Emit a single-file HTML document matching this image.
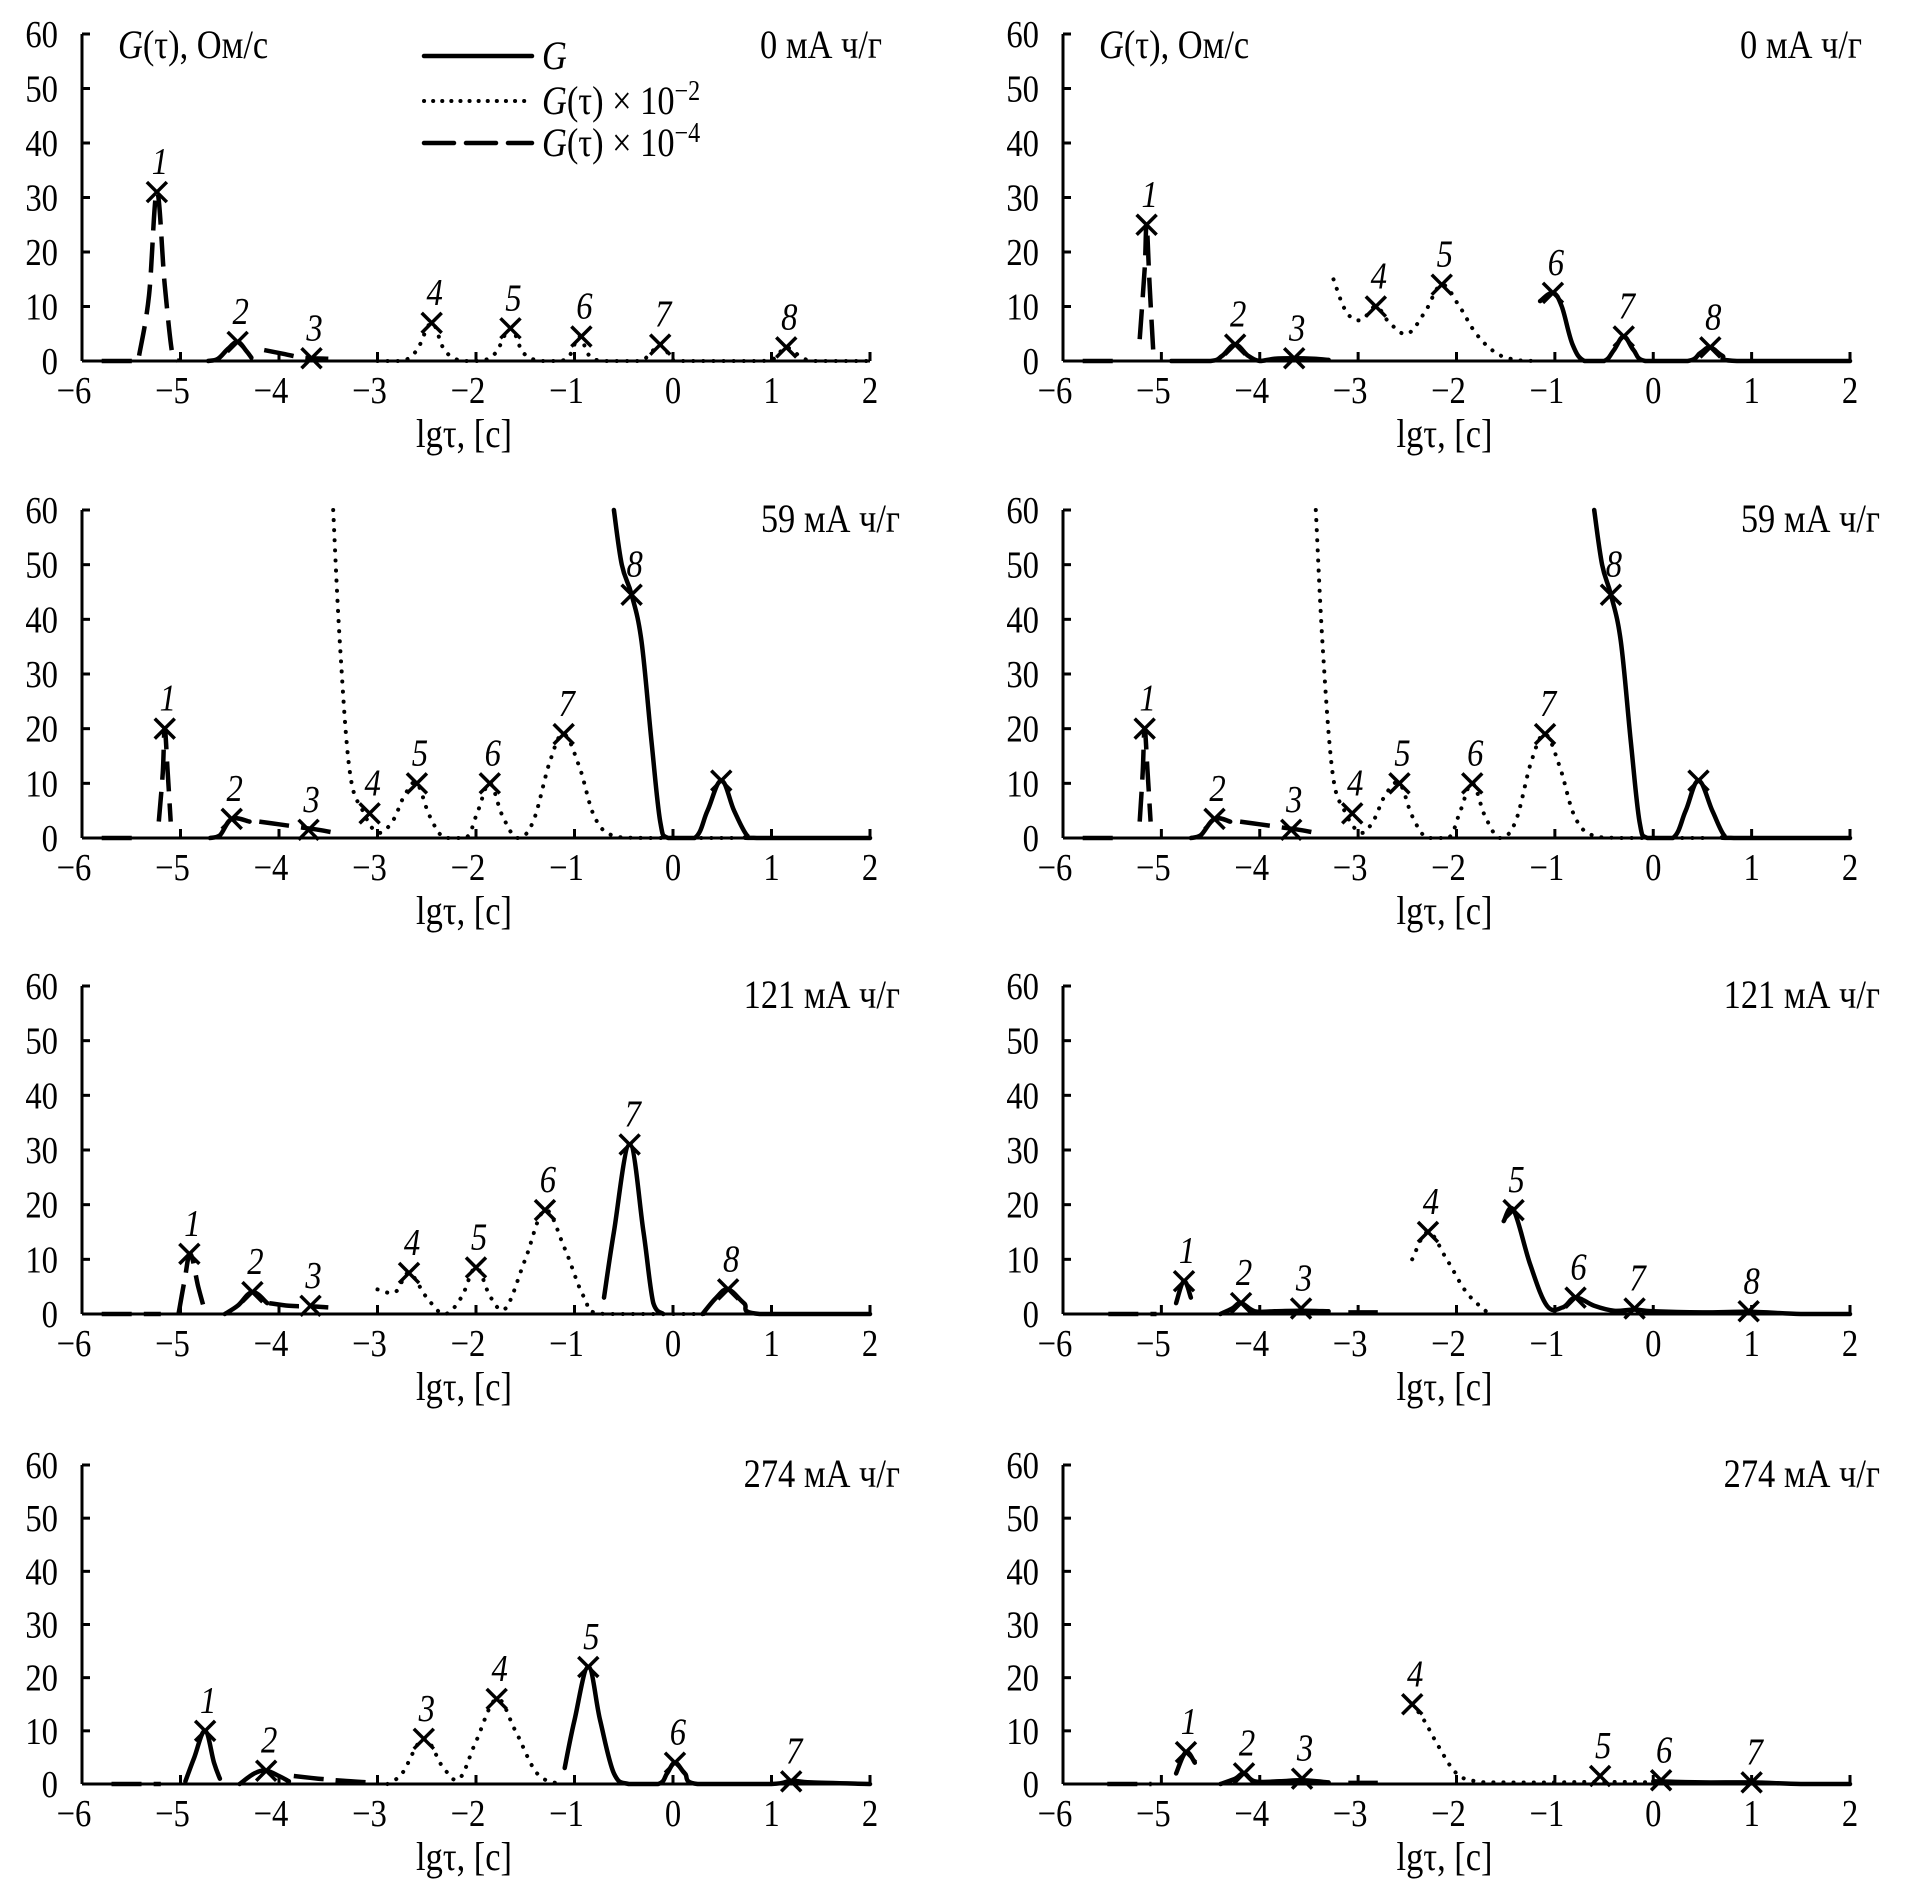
<!DOCTYPE html>
<html><head><meta charset="utf-8"><style>
html,body{margin:0;padding:0;background:#fff}
svg{display:block}
text{font-family:"Liberation Serif",serif;fill:#000}
</style></head><body>
<svg id="chart" width="1913" height="1889" viewBox="0 0 1913 1889" xmlns="http://www.w3.org/2000/svg"></svg>
<script>
// ---- data ----
const xTicks = [-6,-5,-4,-3,-2,-1,0,1,2];
const xTickLabels = ["\u22126","\u22125","\u22124","\u22123","\u22122","\u22121","0","1","2"];
const yTicks = [0,10,20,30,40,50,60];
const yTickLabels = ["0","10","20","30","40","50","60"];
const panelTitles = ["0 мА ч/г","0 мА ч/г","59 мА ч/г","59 мА ч/г","121 мА ч/г","121 мА ч/г","274 мА ч/г","274 мА ч/г"];

// Panel A (0 mA h/g, left)
const A_dashed = [
 [[-5.8,0],[-5.45,0]],
 [[-5.42,1],[-5.32,12],[-5.24,31],[-5.16,14],[-5.08,1],[-5.02,0]],
 [[-4.15,2],[-3.95,1.3],[-3.75,0.6],[-3.5,0.4]]
];
const A_solid = [
 [[-4.72,0],[-4.62,0.4],[-4.52,2.2],[-4.42,3.5],[-4.33,1.8],[-4.28,0.6]]
];
const A_dotted = [
 [[-3.0,0],[-2.75,0],[-2.6,2],[-2.45,7],[-2.32,2],[-2.15,0],[-1.95,0],[-1.8,1.5],[-1.65,6],[-1.52,1.5],[-1.35,0],[-1.15,0],[-1.05,1],[-0.95,4.5],[-0.85,1],[-0.7,0],[-0.35,0],[-0.25,1],[-0.13,3],[-0.02,0.8],[0.1,0],[0.9,0],[1.05,1],[1.15,2.5],[1.3,0.8],[1.45,0],[2,0]]
];
const A_markerX = [-5.24,-4.42,-3.67,-2.45,-1.65,-0.93,-0.13,1.15];
const A_markerY = [31,3.5,0.5,7,6,4.5,3,2.5];
const A_markerLabels = ["1","2","3","4","5","6","7","8"];

// Panel B (0 mA h/g, right)
const B_dashed = [
 [[-5.8,0],[-5.4,0]],
 [[-5.22,4],[-5.17,17],[-5.15,25],[-5.12,14],[-5.08,1]]
];
const B_solid = [
 [[-4.9,0],[-4.5,0],[-4.38,1],[-4.25,3],[-4.12,1],[-4.0,0],[-3.85,0.4],[-3.65,0.5],[-3.45,0.4],[-3.3,0.2]],
 [[-1.15,11],[-1.02,12.5],[-0.93,10],[-0.82,3],[-0.7,0],[-0.5,0],[-0.4,2],[-0.3,4.5],[-0.2,2],[-0.08,0],[0.35,0],[0.48,1.5],[0.58,2.5],[0.7,1],[0.85,0],[2,0]]
];
const B_dotted = [
 [[-3.25,15],[-3.12,9],[-2.97,7.5],[-2.82,10],[-2.68,7],[-2.5,5],[-2.32,9],[-2.15,14],[-1.97,10],[-1.8,5],[-1.6,1.5],[-1.4,0.2],[-1.2,0]]
];
const B_markerX = [-5.15,-4.25,-3.65,-2.82,-2.15,-1.02,-0.3,0.58];
const B_markerY = [25,3,0.5,10,14,12.5,4.5,2.5];
const B_markerLabels = ["1","2","3","4","5","6","7","8"];

// Panel C (59 mA h/g, left)
const C_dashed = [
 [[-5.8,0],[-5.4,0]],
 [[-5.22,3],[-5.18,12],[-5.16,20],[-5.13,12],[-5.1,3]],
 [[-4.2,3],[-4.0,2.5],[-3.8,2],[-3.6,1.5],[-3.45,1]]
];
const C_solid = [
 [[-4.7,0],[-4.6,0.5],[-4.48,3.5],[-4.3,3]],
 [[-0.6,60],[-0.52,50],[-0.42,44.5],[-0.32,36],[-0.22,18],[-0.13,3],[-0.05,0],[0.22,0],[0.35,5],[0.49,10.5],[0.62,5],[0.75,0.5],[0.85,0],[2,0]]
];
const C_dotted = [
 [[-3.45,60],[-3.38,35],[-3.28,12],[-3.15,5],[-3.0,1],[-2.85,3],[-2.72,8],[-2.6,10],[-2.47,4],[-2.32,0],[-2.1,0],[-1.98,5],[-1.86,10],[-1.73,4],[-1.58,0],[-1.42,3],[-1.25,14],[-1.11,19],[-0.95,13],[-0.8,4],[-0.62,0.5],[-0.3,0],[0.6,0]]
];
const C_markerX = [-5.16,-4.48,-3.7,-3.08,-2.6,-1.86,-1.11,-0.42,0.49];
const C_markerY = [20,3.5,1.5,4.5,10,10,19,44.5,10.5];
const C_markerLabels = ["1","2","3","4","5","6","7","8",""];

// Panel D (59 mA h/g, right)
const D_dashed = [
 [[-5.8,0],[-5.4,0]],
 [[-5.22,3],[-5.19,12],[-5.17,20],[-5.14,12],[-5.11,3]],
 [[-4.2,3],[-4.0,2.5],[-3.8,2],[-3.6,1.5],[-3.45,1]]
];
const D_solid = [
 [[-4.7,0],[-4.6,0.5],[-4.46,3.5],[-4.3,3]],
 [[-0.6,60],[-0.52,50],[-0.43,44.5],[-0.33,36],[-0.23,18],[-0.14,3],[-0.06,0],[0.2,0],[0.33,5],[0.46,10.5],[0.6,5],[0.72,0.5],[0.82,0],[2,0]]
];
const D_dotted = [
 [[-3.43,60],[-3.36,35],[-3.26,12],[-3.14,5],[-2.98,1],[-2.85,3],[-2.72,8],[-2.58,10],[-2.45,4],[-2.3,0],[-2.08,0],[-1.96,5],[-1.84,10],[-1.71,4],[-1.56,0],[-1.4,3],[-1.24,14],[-1.1,19],[-0.95,13],[-0.8,4],[-0.62,0.5],[-0.3,0],[0.6,0]]
];
const D_markerX = [-5.17,-4.46,-3.68,-3.06,-2.58,-1.84,-1.1,-0.43,0.46];
const D_markerY = [20,3.5,1.5,4.5,10,10,19,44.5,10.5];
const D_markerLabels = ["1","2","3","4","5","6","7","8",""];

// Panel E (121 mA h/g, left)
const E_dashed = [
 [[-5.8,0],[-5.2,0]],
 [[-5.02,0],[-4.96,6],[-4.9,11],[-4.82,5],[-4.76,1]],
 [[-4.1,2],[-3.9,1.5],[-3.7,1.4],[-3.5,1.2]]
];
const E_solid = [
 [[-4.55,0],[-4.42,1.5],[-4.27,4],[-4.12,2]],
 [[-0.7,3],[-0.6,15],[-0.44,31],[-0.3,15],[-0.2,2],[-0.1,0]],
 [[0.3,0],[0.44,3],[0.56,4.5],[0.72,2],[0.88,0],[2,0]]
];
const E_dotted = [
 [[-3.0,4.5],[-2.82,4],[-2.68,7.5],[-2.5,3],[-2.32,0],[-2.15,3],[-2.0,8.5],[-1.85,3],[-1.7,1],[-1.5,10],[-1.3,19],[-1.1,12],[-0.9,3],[-0.7,0],[0.4,0]]
];
const E_markerX = [-4.91,-4.27,-3.68,-2.68,-2.0,-1.3,-0.44,0.56];
const E_markerY = [11,4,1.5,7.5,8.5,19,31,4.5];
const E_markerLabels = ["1","2","3","4","5","6","7","8"];

// Panel F (121 mA h/g, right)
const F_dashed = [
 [[-5.54,0],[-5.05,0]],
 [[-3.1,0.3],[-2.8,0.3]]
];
const F_solid = [
 [[-4.85,2],[-4.77,6],[-4.7,3]],
 [[-4.4,0],[-4.28,1],[-4.19,2],[-4.05,0.5],[-3.85,0.5],[-3.58,0.6],[-3.3,0.5]],
 [[-1.52,17],[-1.42,19],[-1.25,9],[-1.08,1.5],[-0.92,1.2],[-0.79,3],[-0.6,1.5],[-0.4,0.6],[-0.19,0.8],[0,0.5],[0.5,0.3],[0.97,0.4],[1.5,0],[2,0]]
];
const F_dotted = [
 [[-2.45,10],[-2.29,15],[-2.1,10],[-1.9,4],[-1.7,0.5]]
];
const F_markerX = [-4.77,-4.19,-3.58,-2.29,-1.42,-0.79,-0.19,0.97];
const F_markerY = [6,2,1,15,19,3,1,0.5];
const F_markerLabels = ["1","2","3","4","5","6","7","8"];

// Panel G (274 mA h/g, left)
const G_dashed = [
 [[-5.7,0],[-5.2,0]],
 [[-3.85,1.5],[-3.6,1],[-3.35,0.6],[-3.1,0.3]]
];
const G_solid = [
 [[-4.95,0.5],[-4.86,5],[-4.75,10],[-4.66,4],[-4.6,1]],
 [[-4.4,0],[-4.25,2],[-4.13,2.5],[-4.0,1.5],[-3.9,0.5]],
 [[-1.1,3],[-1.0,12],[-0.86,22],[-0.74,12],[-0.6,2],[-0.45,0],[-0.15,0],[-0.06,2],[0.02,4],[0.12,2],[0.25,0],[1.0,0],[1.2,0.6],[1.4,0.3],[2,0]]
];
const G_dotted = [
 [[-2.9,0],[-2.75,2],[-2.53,8.5],[-2.33,3],[-2.17,1],[-2.0,8],[-1.79,16],[-1.6,10],[-1.38,2],[-1.15,0]]
];
const G_markerX = [-4.75,-4.13,-2.53,-1.79,-0.86,0.02,1.2];
const G_markerY = [10,2.5,8.5,16,22,4,0.5];
const G_markerLabels = ["1","2","3","4","5","6","7"];

// Panel H (274 mA h/g, right)
const H_dashed = [
 [[-5.55,0],[-5.1,0]],
 [[-3.1,0.2],[-2.8,0.2]]
];
const H_solid = [
 [[-4.85,2],[-4.75,6],[-4.66,4]],
 [[-4.4,0],[-4.25,1],[-4.16,2],[-4.05,0.5],[-3.8,0.5],[-3.57,0.7],[-3.3,0.3]],
 [[0,0.5],[0.5,0.3],[1,0.3],[1.5,0],[2,0]]
];
const H_dotted = [
 [[-2.45,15],[-2.33,12],[-2.18,7],[-2.0,2],[-1.8,0.5],[-1.5,0.3],[-1.0,0.3],[-0.54,0.4],[0,0.3]]
];
const H_markerX = [-4.75,-4.16,-3.57,-2.45,-0.54,0.08,1.0];
const H_markerY = [6,2,1,15,1.5,0.7,0.3];
const H_markerLabels = ["1","2","3","4","5","6","7"];

// ---- rendering ----
const NS = "http://www.w3.org/2000/svg";
const svg = document.getElementById("chart");
function mk(tag, attrs, parent){ const e=document.createElementNS(NS,tag); for(const k in attrs) e.setAttribute(k,attrs[k]); (parent||svg).appendChild(e); return e; }
function txt(parent, x, y, anchor, size, html, italic){
  const g = mk("g",{transform:`translate(${x},${y}) scale(0.86,1)`},parent);
  const t = mk("text",{x:0,y:0,"text-anchor":anchor,"font-size":size},g);
  if(italic) t.setAttribute("font-style","italic");
  t.innerHTML = html;
  return t;
}

const colX = [[82,870],[1063,1850]];
const rowY = [[361,34],[838,510],[1314,986],[1784,1465]];
const panels = [
 {s:A_solid,d:A_dotted,da:A_dashed,mx:A_markerX,my:A_markerY,ml:A_markerLabels},
 {s:B_solid,d:B_dotted,da:B_dashed,mx:B_markerX,my:B_markerY,ml:B_markerLabels},
 {s:C_solid,d:C_dotted,da:C_dashed,mx:C_markerX,my:C_markerY,ml:C_markerLabels},
 {s:D_solid,d:D_dotted,da:D_dashed,mx:D_markerX,my:D_markerY,ml:D_markerLabels},
 {s:E_solid,d:E_dotted,da:E_dashed,mx:E_markerX,my:E_markerY,ml:E_markerLabels},
 {s:F_solid,d:F_dotted,da:F_dashed,mx:F_markerX,my:F_markerY,ml:F_markerLabels},
 {s:G_solid,d:G_dotted,da:G_dashed,mx:G_markerX,my:G_markerY,ml:G_markerLabels},
 {s:H_solid,d:H_dotted,da:H_dashed,mx:H_markerX,my:H_markerY,ml:H_markerLabels}
];

function smoothPath(pts, sx, sy){
  const base = sy(0);
  const p = pts.map(q=>[sx(q[0]), sy(q[1])]);
  if(p.length<2) return "";
  let d = "M"+p[0][0].toFixed(1)+","+p[0][1].toFixed(1);
  for(let i=0;i<p.length-1;i++){
    const p0=p[Math.max(0,i-1)], p1=p[i], p2=p[i+1], p3=p[Math.min(p.length-1,i+2)];
    const t=0.18;
    const c1=[p1[0]+(p2[0]-p0[0])*t, Math.min(base, p1[1]+(p2[1]-p0[1])*t)];
    const c2=[p2[0]-(p3[0]-p1[0])*t, Math.min(base, p2[1]-(p3[1]-p1[1])*t)];
    d+=" C"+c1[0].toFixed(1)+","+c1[1].toFixed(1)+" "+c2[0].toFixed(1)+","+c2[1].toFixed(1)+" "+p2[0].toFixed(1)+","+p2[1].toFixed(1);
  }
  return d;
}

panels.forEach((P, idx)=>{
  const c = idx%2, r = Math.floor(idx/2);
  const [x0,x1] = colX[c], [y0,y60] = rowY[r];
  const sx = v => x0 + (v+6)/8*(x1-x0);
  const sy = v => y0 - v/60*(y0-y60);
  const g = mk("g",{});
  
  

  const ya = mk("line",{x1:x0,y1:y60,x2:x0,y2:y0,stroke:"#000","stroke-width":3},g);
  
  
  const xa = mk("line",{x1:x0,y1:y0,x2:x1,y2:y0,stroke:"#000","stroke-width":3},g);
  
  
  yTicks.forEach((v,i)=>{
    mk("line",{x1:x0,y1:sy(v),x2:x0+8,y2:sy(v),stroke:"#000","stroke-width":3},g);
    const t = txt(g, x0-24, sy(v)+13, "end", 38, yTickLabels[i]);
    
    
  });
  xTicks.forEach((v,i)=>{
    mk("line",{x1:sx(v),y1:y0,x2:sx(v),y2:y0-9,stroke:"#000","stroke-width":3},g);
    const t = txt(g, sx(v)-(v<0?8:0), y0+42, "middle", 38, xTickLabels[i]);
    
    
  });
  const xt = txt(g, (x0+x1)/2-12, y0+86, "middle", 40, "lgτ, [с]");
  
  
  const tt = txt(g, (r===0?x1+12:x1+30), (r===0?y60+24:y60+22), "end", 40, panelTitles[idx]);
  
  
  if(r===0){
    const yl = txt(g, x0+36, y60+24, "start", 40, '<tspan font-style="italic">G</tspan>(τ), Ом/с');
    
    
  }

  P.s.forEach(seg=>{
    const e = mk("path",{d:smoothPath(seg,sx,sy),fill:"none",stroke:"#000","stroke-width":4.5,"stroke-linejoin":"round","stroke-linecap":"round"},g);
    
    
  });
  P.d.forEach(seg=>{
    const e = mk("path",{d:smoothPath(seg,sx,sy),fill:"none",stroke:"#000","stroke-width":4,"stroke-dasharray":"0.1 10","stroke-linecap":"round"},g);
    
    
  });
  P.da.forEach(seg=>{
    const e = mk("path",{d:smoothPath(seg,sx,sy),fill:"none",stroke:"#000","stroke-width":4.5,"stroke-dasharray":"30 12"},g);
    
    
  });
  P.mx.forEach((mxv,i)=>{
    const cx=sx(mxv), cy=sy(P.my[i]), h=10;
    const m = mk("path",{d:`M${cx-h},${cy-h}L${cx+h},${cy+h}M${cx+h},${cy-h}L${cx-h},${cy+h}`,stroke:"#000","stroke-width":3.5,fill:"none"},g);
    
    
    if(P.ml[i]!==""){
      const l = txt(g, cx+3, cy-18, "middle", 38, P.ml[i], true);
      
      
    }
  });
});

const legend = mk("g",{});


const legItems = [
 {y:56, dash:null, w:4.5, label:'<tspan font-style="italic">G</tspan>'},
 {y:101, dash:"0.1 9", w:4, label:'<tspan font-style="italic">G</tspan>(τ) × 10<tspan dy="-14" font-size="28">−2</tspan>'},
 {y:143, dash:"30 12", w:4.5, label:'<tspan font-style="italic">G</tspan>(τ) × 10<tspan dy="-14" font-size="28">−4</tspan>'}
];
legItems.forEach((it,i)=>{
  const ln = mk("line",{x1:424,y1:it.y,x2:532,y2:it.y,stroke:"#000","stroke-width":it.w,"stroke-linecap":"round"},legend);
  if(it.dash) ln.setAttribute("stroke-dasharray",it.dash);
  
  
  const t = txt(legend, 542, it.y+13, "start", 40, it.label);
  
  
});
</script>
</body></html>
